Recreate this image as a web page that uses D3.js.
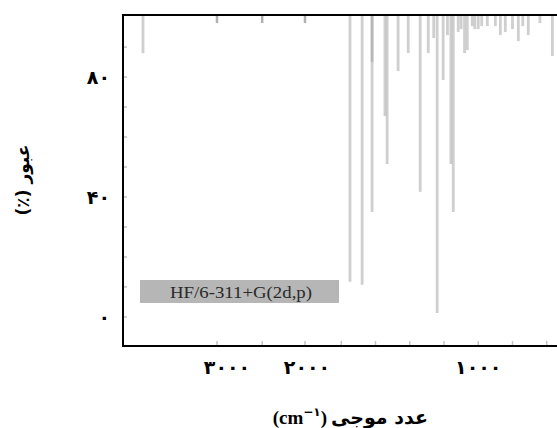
<!DOCTYPE html>
<html lang="fa">
<head>
<meta charset="UTF-8">
<title>IR spectrum</title>
<script src="https://cdnjs.cloudflare.com/ajax/libs/d3/7.8.5/d3.min.js"></script>
<style>
    body { margin: 0; background: #fff; }
    svg { display: block; }
    .fa { font-family: "DejaVu Sans", sans-serif; font-weight: bold; fill: #000; }
</style>
</head>
<body>
<div id="chart"></div>
<script>
// stick spectrum: wavenumber (cm-1) and transmittance (%)
const wavenumbers   = [4050, 1749, 1678, 1620, 1620, 1545, 1532, 1468, 1409, 1339, 1292, 1260, 1240, 1205, 1180, 1160, 1146, 1117, 1100, 1080, 1064, 1035, 1020, 1000, 980, 947, 900, 871, 842, 800, 766, 740, 708, 640, 567];
const transmittance = [  88,  11.7,  10.7,   35,   85,   67,   51,   82,   88, 41.7,   88,   93,  1.3,   79,   94,   51,   35,   95,   96,   88,   89,   97,   96,   96,  97,  97,  97,  94,  95,  96,  92,  97,  94,  98,  87];

const yTickValues = [0, 40, 80];
const yTickLabels = ["۰", "۴۰", "۸۰"];
const yMinorTicks = [0, 10, 20, 30, 40, 50, 60, 70, 80, 90];

const xTickValues = [3000, 2000, 1000];
const xTickLabels = ["۳۰۰۰", "۲۰۰۰", "۱۰۰۰"];
const xMinorTicks = [3125, 2560, 2025, 1800, 1600, 1400, 1200, 1000, 800, 600];

const legendText = "HF/6-311+G(2d,p)";

const width = 557, height = 428;

// split wavenumber axis, above 2000 is compressed
const x = d3.scaleLinear()
    .domain([4300, 2000, 400])
    .range([123, 307, 581]);

const y = d3.scaleLinear()
    .domain([-9.7, 100.7])
    .range([346, 15]);

const svg = d3.select("#chart")
    .append("svg")
    .attr("width", width)
    .attr("height", height);

// sticks hang from the top frame
svg.append("g")
    .selectAll("line")
    .data(wavenumbers)
    .join("line")
    .attr("x1", d => x(d))
    .attr("x2", d => x(d))
    .attr("y1", y(100.7))
    .attr("y2", (d, i) => y(transmittance[i]))
    .attr("stroke", "#a0a0a0")
    .attr("stroke-opacity", 0.5)
    .attr("stroke-width", 2.8);

// minor ticks (light grey, inside)
svg.append("g")
    .selectAll("line")
    .data(yMinorTicks)
    .join("line")
    .attr("x1", 123).attr("x2", 127)
    .attr("y1", d => y(d)).attr("y2", d => y(d))
    .attr("stroke", "#c4c4c4").attr("stroke-width", 1.5);

svg.append("g")
    .selectAll("line")
    .data(xMinorTicks)
    .join("line")
    .attr("x1", d => x(d)).attr("x2", d => x(d))
    .attr("y1", 346).attr("y2", 341)
    .attr("stroke", "#c4c4c4").attr("stroke-width", 1.5);

svg.append("g")
    .selectAll("line")
    .data(xMinorTicks.filter(d => d > 2000))
    .join("line")
    .attr("x1", d => x(d)).attr("x2", d => x(d))
    .attr("y1", 15).attr("y2", 23)
    .attr("stroke", "#b0b0b0").attr("stroke-width", 2.5);

// frame: left, top and bottom
svg.append("path")
    .attr("d", `M${width},15 H123 V346 H${width}`)
    .attr("fill", "none")
    .attr("stroke", "#000")
    .attr("stroke-width", 2);

// tick labels
svg.append("g")
    .selectAll("text")
    .data(yTickValues)
    .join("text")
    .attr("class", "fa")
    .attr("x", 110)
    .attr("y", d => y(d))
    .attr("dy", "0.38em")
    .attr("text-anchor", "end")
    .attr("font-size", 19)
    .text((d, i) => yTickLabels[i]);

svg.append("g")
    .selectAll("text")
    .data(xTickValues)
    .join("text")
    .attr("class", "fa")
    .attr("x", d => x(d))
    .attr("y", 374)
    .attr("text-anchor", "middle")
    .attr("font-size", 19)
    .attr("letter-spacing", 0.5)
    .text((d, i) => xTickLabels[i]);

// legend box
svg.append("rect")
    .attr("x", 140).attr("y", 280)
    .attr("width", 199).attr("height", 23)
    .attr("fill", "#b6b6b6");

svg.append("text")
    .attr("x", 170).attr("y", 297.5)
    .attr("font-family", "Liberation Serif, serif")
    .attr("font-size", 16)
    .attr("fill", "#2a2a2a")
    .attr("textLength", 142)
    .attr("lengthAdjust", "spacingAndGlyphs")
    .text(legendText);

// axis titles
svg.append("text")
    .attr("class", "fa")
    .attr("transform", "translate(29,180) rotate(-90)")
    .attr("text-anchor", "middle")
    .attr("direction", "rtl")
    .attr("font-size", 17)
    .text("عبور (٪)");

const xt = svg.append("text")
    .attr("x", 327).attr("y", 424)
    .attr("text-anchor", "end")
    .attr("font-family", "Liberation Serif, serif")
    .attr("font-weight", "bold")
    .attr("font-size", 19);
xt.append("tspan").text("(cm");
xt.append("tspan").attr("class", "fa").attr("font-size", 12).attr("dy", -8).text("−۱");
xt.append("tspan").attr("dy", 8).text(")");

svg.append("text")
    .attr("class", "fa")
    .attr("x", 331).attr("y", 424)
    .attr("font-size", 19)
    .text("عدد موجی");
</script>
</body>
</html>
